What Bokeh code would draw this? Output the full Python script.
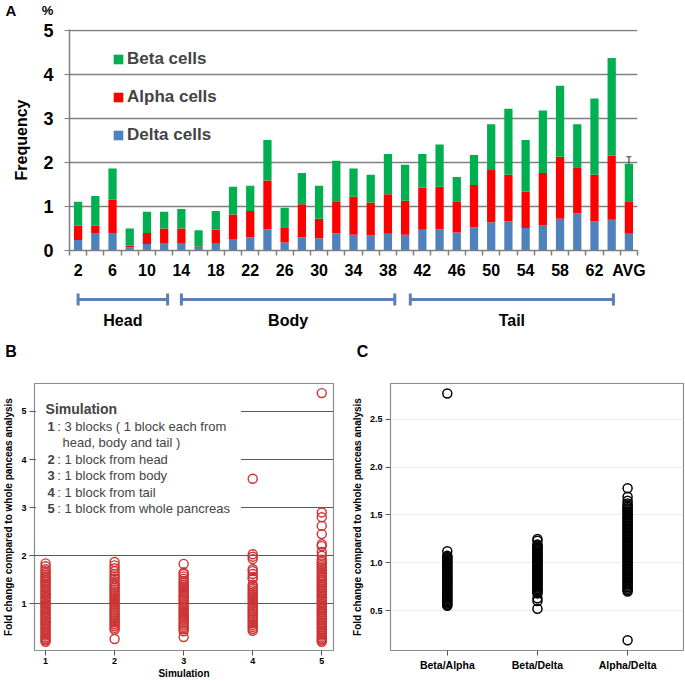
from bokeh.plotting import figure
from bokeh.layouts import column, row
from bokeh.models import Range1d, FixedTicker, Legend, LegendItem, Label, BoxAnnotation, ColumnDataSource
from bokeh.embed import file_html
from bokeh.resources import INLINE
from bokeh.core.properties import value

FONT = "Liberation Sans"

# ---------------- Panel A data ----------------
blocks = ["2", "4", "6", "8", "10", "12", "14", "16", "18", "20", "22", "24", "26", "28", "30", "32",
          "34", "36", "38", "40", "42", "44", "46", "48", "50", "52", "54", "56", "58", "60", "62", "64", "AVG"]
delta = [0.24, 0.40, 0.40, 0.07, 0.15, 0.17, 0.17, 0.06, 0.17, 0.26, 0.30, 0.48, 0.18, 0.30, 0.28, 0.39,
         0.36, 0.34, 0.38, 0.36, 0.47, 0.48, 0.41, 0.53, 0.64, 0.66, 0.51, 0.57, 0.72, 0.84, 0.66, 0.70, 0.38]
alpha = [0.33, 0.17, 0.75, 0.04, 0.25, 0.33, 0.33, 0.03, 0.30, 0.56, 0.60, 1.11, 0.35, 0.75, 0.44, 0.73,
         0.86, 0.75, 0.90, 0.77, 0.96, 0.97, 0.71, 0.96, 1.19, 1.06, 0.83, 1.19, 1.41, 1.05, 1.06, 1.46, 0.74]
beta = [0.54, 0.67, 0.71, 0.39, 0.48, 0.38, 0.44, 0.37, 0.43, 0.63, 0.57, 0.92, 0.44, 0.71, 0.75, 0.92,
        0.64, 0.63, 0.91, 0.82, 0.76, 0.96, 0.55, 0.68, 1.04, 1.50, 1.17, 1.42, 1.61, 0.98, 1.73, 2.21, 0.85]
avg_error_top = 2.13
tick_blocks = ["2", "6", "10", "14", "18", "22", "26", "30", "34", "38", "42", "46", "50", "54", "58", "62", "AVG"]
y_ticks_A = [0, 1, 2, 3, 4, 5]

regions = ["Head", "Body", "Tail"]
region_from = [0.5, 6.5, 19.8]
region_to = [5.7, 18.9, 31.6]

# ---------------- Panel B data ----------------
simulations = [1, 2, 3, 4, 5]
sim1 = [0.21, 0.24, 0.27, 0.3, 0.34, 0.37, 0.41, 0.44, 0.48, 0.51, 0.55, 0.58, 0.62, 0.65, 0.69, 0.72, 0.76,
        0.79, 0.83, 0.86, 0.9, 0.93, 0.97, 1.0, 1.04, 1.07, 1.11, 1.14, 1.18, 1.21, 1.25, 1.28, 1.32, 1.35,
        1.39, 1.42, 1.46, 1.49, 1.53, 1.56, 1.6, 1.64, 1.68, 1.72, 1.78, 1.84]
sim2 = [0.27, 0.46, 0.5, 0.54, 0.58, 0.62, 0.66, 0.7, 0.74, 0.78, 0.82, 0.86, 0.9, 0.94, 0.98, 1.02, 1.06,
        1.1, 1.14, 1.18, 1.22, 1.26, 1.3, 1.34, 1.38, 1.42, 1.47, 1.52, 1.57, 1.62, 1.68, 1.74, 1.8, 1.87]
sim3 = [0.31, 0.43, 0.47, 0.51, 0.55, 0.59, 0.63, 0.67, 0.71, 0.75, 0.79, 0.83, 0.87, 0.91, 0.95, 0.99,
        1.03, 1.07, 1.11, 1.15, 1.19, 1.23, 1.27, 1.31, 1.35, 1.39, 1.43, 1.47, 1.52, 1.57, 1.62, 1.65, 1.83]
sim4 = [0.44, 0.48, 0.52, 0.56, 0.6, 0.64, 0.68, 0.72, 0.76, 0.8, 0.84, 0.88, 0.92, 0.96, 1.0, 1.04, 1.08,
        1.12, 1.16, 1.2, 1.24, 1.28, 1.32, 1.36, 1.4, 1.52, 1.56, 1.62, 1.68, 1.72, 1.93, 1.98, 2.03, 3.6]
sim5 = [0.21, 0.24, 0.27, 0.3, 0.34, 0.37, 0.41, 0.44, 0.48, 0.51, 0.55, 0.58, 0.62, 0.65, 0.69, 0.72, 0.76,
        0.79, 0.83, 0.86, 0.9, 0.93, 0.97, 1.0, 1.04, 1.07, 1.11, 1.14, 1.18, 1.21, 1.25, 1.28, 1.32, 1.35,
        1.39, 1.42, 1.46, 1.49, 1.53, 1.56, 1.6, 1.64, 1.68, 1.72, 1.76, 1.8, 1.84, 1.88, 1.92, 2.0, 2.08,
        2.2, 2.24, 2.45, 2.62, 2.8, 2.9, 5.38]
legend_B_title = "Simulation"
legend_B_nums = ["1", "", "2", "3", "4", "5"]
legend_B_texts = [": 3 blocks ( 1 block each from", "head, body and tail )", ": 1 block from head",
                  ": 1 block from body", ": 1 block from tail", ": 1 block from whole pancreas"]

# ---------------- Panel C data ----------------
ratios = ["Beta/Alpha", "Beta/Delta", "Alpha/Delta"]
beta_alpha = [0.55, 0.562, 0.575, 0.587, 0.6, 0.612, 0.625, 0.637, 0.65, 0.662, 0.675, 0.687, 0.7, 0.712,
              0.725, 0.737, 0.75, 0.762, 0.775, 0.787, 0.8, 0.812, 0.825, 0.837, 0.85, 0.862, 0.875, 0.887,
              0.9, 0.912, 0.925, 0.937, 0.95, 0.962, 0.975, 0.987, 1.0, 1.012, 1.025, 1.037, 1.05, 1.062,
              1.075, 1.12, 2.77]
beta_delta = [0.52, 0.6, 0.63, 0.68, 0.692, 0.705, 0.717, 0.73, 0.742, 0.755, 0.767, 0.78, 0.792, 0.805,
              0.817, 0.83, 0.842, 0.855, 0.867, 0.88, 0.892, 0.905, 0.917, 0.93, 0.942, 0.955, 0.967, 0.98,
              0.992, 1.005, 1.017, 1.03, 1.042, 1.055, 1.067, 1.08, 1.092, 1.105, 1.117, 1.13, 1.142, 1.155,
              1.167, 1.18, 1.192, 1.23, 1.25]
alpha_delta = [0.19, 0.7, 0.715, 0.73, 0.745, 0.76, 0.775, 0.79, 0.805, 0.82, 0.835, 0.85, 0.865, 0.88,
               0.895, 0.91, 0.925, 0.94, 0.955, 0.97, 0.985, 1.0, 1.015, 1.03, 1.045, 1.06, 1.075, 1.09,
               1.105, 1.12, 1.135, 1.15, 1.165, 1.18, 1.195, 1.21, 1.225, 1.24, 1.255, 1.27, 1.285, 1.3,
               1.315, 1.33, 1.345, 1.36, 1.375, 1.39, 1.405, 1.42, 1.435, 1.45, 1.465, 1.48, 1.495, 1.51,
               1.525, 1.54, 1.555, 1.57, 1.585, 1.6, 1.62, 1.65, 1.69, 1.78]
y_label_BC = "Fold change compared to whole panceas analysis"

panel_letters = ["A", "B", "C"]

BLUE, RED, GREEN = "#4f81bd", "#ff0000", "#00b050"
GRAY = "#7f7f7f"
W = 685


def style_text(ax, label_size, tick_size):
    ax.axis_label_text_font = FONT
    ax.axis_label_text_font_style = "bold"
    ax.axis_label_text_font_size = label_size
    ax.axis_label_text_color = "black"
    ax.major_label_text_font = FONT
    ax.major_label_text_font_style = "bold"
    ax.major_label_text_font_size = tick_size
    ax.major_label_text_color = "black"


def header(height, xs, ys, texts, sizes):
    h = figure(width=W, height=height, x_range=Range1d(0, W), y_range=Range1d(height, 0),
               x_axis_type=None, y_axis_type=None, output_backend="svg", toolbar_location=None,
               min_border_left=0, min_border_right=0, min_border_top=0, min_border_bottom=0)
    h.outline_line_color = None
    for x, y, t, s in zip(xs, ys, texts, sizes):
        h.text(x=[x], y=[y], text=[t], text_font=value(FONT), text_font_size=s, text_font_style="bold",
               text_align="center", text_baseline="middle", text_color="black")
    return h


# ================= header A =================
hdrA = header(20, [10.5, 47], [10, 10], [panel_letters[0], "%"], ["15px", "13px"])

# ================= Panel A =================
x_pos = [i + 0.5 for i in range(len(blocks))]
srcA = ColumnDataSource(dict(x=x_pos, delta=delta, alpha=alpha, beta=beta))
pA = figure(width=W, height=266, x_range=Range1d(0, len(blocks)), y_range=Range1d(0, 5.02),
            output_backend="svg", toolbar_location=None,
            min_border_left=69, min_border_right=48, min_border_top=9, min_border_bottom=36)
pA.outline_line_color = None
rs = pA.vbar_stack(["delta", "alpha", "beta"], x="x", width=0.48, color=[BLUE, RED, GREEN],
                   line_color=None, source=srcA)

i_avg = blocks.index("AVG")
avg_total = delta[i_avg] + alpha[i_avg] + beta[i_avg]
pA.segment(x0=[x_pos[i_avg]], y0=[avg_total], x1=[x_pos[i_avg]], y1=[avg_error_top],
           line_color="#404040", line_width=1.2)
pA.segment(x0=[x_pos[i_avg] - 0.15], y0=[avg_error_top], x1=[x_pos[i_avg] + 0.15], y1=[avg_error_top],
           line_color="#404040", line_width=1.2)

xa = pA.xaxis[0]
xa.ticker = FixedTicker(ticks=[blocks.index(t) + 0.5 for t in tick_blocks],
                        minor_ticks=list(range(len(blocks) + 1)))
xa.major_label_overrides = {blocks.index(t) + 0.5: t for t in tick_blocks}
xa.major_tick_out = 0
xa.major_tick_in = 0
xa.minor_tick_out = 5
xa.minor_tick_in = 0
xa.minor_tick_line_color = GRAY
xa.minor_tick_line_width = 1.5
xa.axis_line_color = GRAY
xa.axis_line_width = 1.5
xa.major_label_standoff = 6
style_text(xa, "16px", "16px")

ya = pA.yaxis[0]
ya.ticker = FixedTicker(ticks=y_ticks_A)
ya.axis_label = "Frequency"
ya.axis_line_color = GRAY
ya.axis_line_width = 1.5
ya.major_tick_out = 5
ya.major_tick_in = 0
ya.major_tick_line_color = GRAY
ya.minor_tick_out = 0
ya.minor_tick_in = 0
ya.major_label_standoff = 11
ya.axis_label_standoff = 10
style_text(ya, "16px", "18px")

pA.xgrid.visible = False
pA.ygrid[0].ticker = FixedTicker(ticks=y_ticks_A[1:])
pA.ygrid.grid_line_color = GRAY
pA.ygrid.grid_line_width = 1.5

legA = Legend(items=[LegendItem(label="Beta cells", renderers=[rs[2]]),
                     LegendItem(label="Alpha cells", renderers=[rs[1]]),
                     LegendItem(label="Delta cells", renderers=[rs[0]])],
              location=(43, 105), orientation="vertical", glyph_width=12, glyph_height=12,
              label_height=20, spacing=18, padding=0, margin=0, label_standoff=3,
              label_text_font=FONT, label_text_font_size="17px", label_text_font_style="bold",
              background_fill_alpha=0, border_line_color=None)
pA.add_layout(legA)

# ================= brackets under panel A =================
pBr = figure(width=W, height=44, x_range=pA.x_range, y_range=Range1d(44, 0),
             x_axis_type=None, y_axis_type=None, output_backend="svg", toolbar_location=None,
             min_border_left=69, min_border_right=48, min_border_top=0, min_border_bottom=0)
pBr.outline_line_color = None
BR = "#5b7fb8"
pBr.segment(x0=region_from, y0=[13] * 3, x1=region_to, y1=[13] * 3, line_color=BR, line_width=3)
pBr.segment(x0=region_from, y0=[7] * 3, x1=region_from, y1=[19] * 3, line_color=BR, line_width=3)
pBr.segment(x0=region_to, y0=[7] * 3, x1=region_to, y1=[19] * 3, line_color=BR, line_width=3)
pBr.text(x=[(a + b) / 2 for a, b in zip(region_from, region_to)], y=[34] * 3, text=regions,
         text_font=value(FONT), text_font_size="16px", text_font_style="bold",
         text_align="center", text_baseline="middle", text_color="black")

# ================= header B / C =================
hdrBC = header(35, [10.5, 362], [21, 21], panel_letters[1:], ["16px", "16px"])

# ================= Panel B =================
xsB, ysB = [], []
for sid, vals in zip(simulations, [sim1, sim2, sim3, sim4, sim5]):
    xsB += [sid] * len(vals)
    ysB += vals
pB = figure(width=348, height=316, x_range=Range1d(0.84, 5.17), y_range=Range1d(0.03, 5.58),
            output_backend="svg", toolbar_location=None,
            min_border_left=32, min_border_right=15, min_border_top=18, min_border_bottom=30)
pB.outline_line_color = "#8c8c8c"
pB.outline_line_width = 1.2
pB.xgrid.visible = False
pB.ygrid[0].ticker = FixedTicker(ticks=[1, 2, 3, 4, 5])
pB.ygrid.grid_line_color = "#5a5a5a"
pB.ygrid.grid_line_width = 1
pB.scatter(xsB, ysB, marker="circle", size=9, fill_color=None, line_color="#cc3333", line_width=1.4)

for ax in (pB.xaxis[0], pB.yaxis[0]):
    ax.ticker = FixedTicker(ticks=[1, 2, 3, 4, 5])
    ax.axis_line_color = None
    ax.major_tick_out = 5
    ax.major_tick_in = 0
    ax.major_tick_line_color = "#555555"
    ax.minor_tick_out = 0
    ax.minor_tick_in = 0
    ax.major_label_standoff = 2
    ax.axis_label_standoff = 1
    style_text(ax, "10px", "9px")
pB.yaxis[0].major_label_standoff = 3
pB.yaxis[0].axis_label_standoff = 4
pB.xaxis[0].axis_label = "Simulation"
pB.yaxis[0].axis_label = y_label_BC

pB.add_layout(BoxAnnotation(left=0.86, right=3.83, bottom=2.3, top=5.56, fill_color="white",
                            fill_alpha=1, line_color=None))
pB.add_layout(Label(x=1.0, y=5.055, text=legend_B_title, text_baseline="middle",
                    text_font=FONT, text_font_size="14px", text_font_style="bold"))
rows_y = [4.69, 4.35, 4.006, 3.66, 3.32, 2.98]
for num, txt, yy in zip(legend_B_nums, legend_B_texts, rows_y):
    if num:
        pB.add_layout(Label(x=1.03, y=yy, text=num, text_baseline="middle",
                            text_font=FONT, text_font_size="13px", text_font_style="bold"))
        pB.add_layout(Label(x=1.17, y=yy, text=txt, text_baseline="middle",
                            text_font=FONT, text_font_size="13px"))
    else:
        pB.add_layout(Label(x=1.245, y=yy, text=txt, text_baseline="middle",
                            text_font=FONT, text_font_size="13px"))

# ================= Panel C =================
xsC, ysC = [], []
for k, vals in enumerate([beta_alpha, beta_delta, alpha_delta]):
    xsC += [k + 1] * len(vals)
    ysC += vals
pC = figure(width=W - 348, height=316, x_range=Range1d(0.37, 3.62), y_range=Range1d(0.083, 2.875),
            output_backend="svg", toolbar_location=None,
            min_border_left=36, min_border_right=2, min_border_top=18, min_border_bottom=30)
pC.outline_line_color = "#8c8c8c"
pC.outline_line_width = 1.2
pC.xgrid.visible = False
pC.ygrid.grid_line_color = "#ececec"
pC.scatter(xsC, ysC, marker="circle", size=9, fill_color=None, line_color="black", line_width=1.5)
pC.xaxis[0].ticker = FixedTicker(ticks=[1, 2, 3])
pC.xaxis[0].major_label_overrides = {k + 1: r for k, r in enumerate(ratios)}
pC.yaxis[0].ticker = FixedTicker(ticks=[0.5, 1.0, 1.5, 2.0, 2.5])
pC.yaxis[0].major_label_overrides = {0.5: "0.5", 1.0: "1.0", 1.5: "1.5", 2.0: "2.0", 2.5: "2.5"}
pC.ygrid[0].ticker = FixedTicker(ticks=[0.5, 1.0, 1.5, 2.0, 2.5])
for ax in (pC.xaxis[0], pC.yaxis[0]):
    ax.axis_line_color = None
    ax.major_tick_out = 5
    ax.major_tick_in = 0
    ax.major_tick_line_color = "#555555"
    ax.minor_tick_out = 0
    ax.minor_tick_in = 0
    ax.major_label_standoff = 3
    ax.axis_label_standoff = 4
    style_text(ax, "10px", "9px")
pC.xaxis[0].major_label_text_font_size = "10.5px"
pC.yaxis[0].axis_label = y_label_BC

layout = column(row(hdrA), pA, pBr, row(hdrBC), row(pB, pC, spacing=0), spacing=0)
open("out.html", "w").write(file_html(layout, INLINE))
